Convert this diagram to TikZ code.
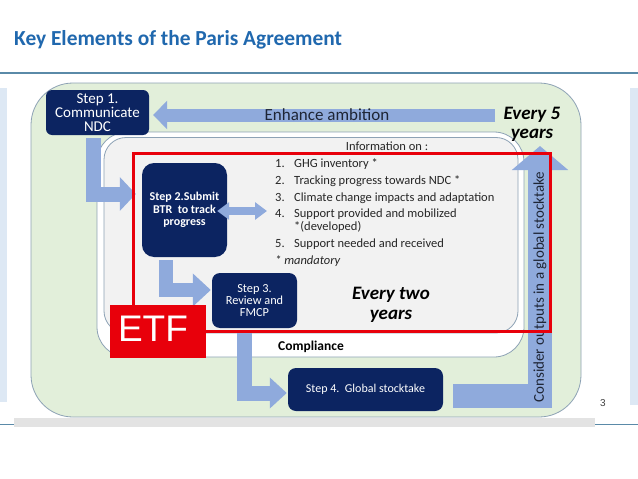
\documentclass[tikz,border=0pt]{standalone}
\usepackage{fontspec}
\setmainfont{Carlito}
\newfontfamily\arialf{Liberation Sans}
\usetikzlibrary{arrows.meta}
\pgfdeclarelayer{back}
\pgfdeclarelayer{mid}
\pgfsetlayers{back,mid,main}
\definecolor{navy}{HTML}{0C2461}
\definecolor{ablue}{HTML}{8FAADC}
\definecolor{titleblue}{HTML}{2068AE}
\definecolor{greenfill}{HTML}{E2EFDA}
\definecolor{boxline}{HTML}{8DA2B5}
\definecolor{grayfill}{HTML}{F2F2F2}
\definecolor{etfred}{HTML}{E8000B}
\definecolor{stripblue}{HTML}{DDE8F4}
\definecolor{ruleblue}{HTML}{5A8AA8}
\definecolor{txt}{HTML}{262626}
\definecolor{darktxt}{HTML}{1E2535}
\newcommand{\fsz}[2]{\fontsize{#1}{#2}\selectfont}
\begin{document}
\begin{tikzpicture}[x=1pt,y=-1pt,
  stepbox/.style={fill=navy, text=white, rounded corners=#1, inner sep=0pt, align=center},
  stepbox/.default=8pt,
  barrow/.style={draw=ablue, line join=miter},
  panel/.style={draw=boxline, line width=0.8pt},
  listitem/.style={anchor=base west, inner sep=0pt, text=txt, font=\fsz{12.5}{15}},
  bigital/.style={font=\fsz{19}{19}\bfseries\itshape, align=center, inner sep=0pt, text=black},
  redframe/.style={draw=etfred, line width=3pt}
]
\begin{pgfonlayer}{back}
\useasboundingbox (0,0) rectangle (638,479);
\fill[white] (0,0) rectangle (638,479);
% slide furniture
\draw[ruleblue, line width=1.1pt] (0,73) -- (638,73);
\fill[stripblue] (0,88) rectangle (7,402);
\fill[stripblue] (630,88) rectangle (638,405);
\draw[ruleblue, line width=1pt] (0,424.5) -- (638,424.5);
\fill[black!11] (14,418) rectangle (595,427);
% panels
\draw[panel, fill=greenfill, rounded corners=42pt] (31,83) rectangle (581,417);
\draw[panel, fill=white, rounded corners=30pt] (97,132) rectangle (524,357);
\draw[panel, fill=grayfill, rounded corners=22pt] (104,137.5) rectangle (518,333);
\end{pgfonlayer}

\node[anchor=base west, inner sep=0pt, font=\fsz{21.4}{25}\bfseries, text=titleblue] (title) at (14,45.5) {Key Elements of the Paris Agreement};
\node[font=\arialf\fsz{10}{12}, text=black!75, inner sep=0pt] (pagenum) at (603,403) {3};

% coordinates for connectors
\coordinate (ea) at (495,115);
\coordinate (c1) at (93,194);
\coordinate (c2) at (166,290);
\coordinate (c3) at (244,393);
\coordinate (c4) at (540,395.5);
\coordinate (gst) at (540,146);
\coordinate (dl) at (267,211);

% step boxes
\node[stepbox=6pt, minimum width=103pt, minimum height=45pt, font=\fsz{15}{14}] (step1) at (97.5,112.5) {Step 1.\\Communicate\\NDC};
\node[stepbox=12pt, minimum width=85pt, minimum height=94pt, font=\fsz{12}{12.5}\bfseries] (step2) at (184.5,210) {Step 2.Submit\\BTR\ \ to track\\progress};
\node[stepbox=8pt, minimum width=85pt, minimum height=55pt, font=\fsz{12.3}{12}] (step3) at (254.5,300.5) {Step 3.\\Review and\\FMCP};
\node[stepbox=8pt, minimum width=155pt, minimum height=43pt, font=\fsz{12}{14}] (step4) at (365.5,389.5) {Step 4.\ \ Global stocktake};

% block arrows (below the boxes)
\begin{pgfonlayer}{mid}
\draw[barrow, line width=13pt, -{Triangle[width=28pt,length=14pt]}] (ea) -- ([xshift=4pt]ea -| step1.east);
\draw[barrow, line width=24pt, -{Triangle[width=55pt,length=24pt]}] ([xshift=10pt]step4.east |- c4) -- (c4) -- (gst);
\draw[barrow, line width=15pt, -{Triangle[width=33pt,length=16pt]}] ([yshift=-3pt]step1.south -| c1) -- (c1) -- ([xshift=-6pt]c1 -| step2.west);
\draw[barrow, line width=14pt, -{Triangle[width=32pt,length=18pt]}] ([yshift=-3pt]step2.south -| c2) -- (c2) -- ([xshift=-1pt]c2 -| step3.west);
\draw[barrow, line width=15pt, -{Triangle[width=30pt,length=17pt]}] ([yshift=-2pt]step3.south -| c3) -- (c3) -- ([xshift=-1pt]c3 -| step4.west);
\end{pgfonlayer}

% double arrow step 2 <-> information list
\draw[barrow, line width=8pt, {Triangle[width=17pt,length=12pt]}-{Triangle[width=17pt,length=12pt]}] ([xshift=-10pt]step2.east |- dl) -- (dl);

% texts
\node[font=\fsz{17}{20}, text=darktxt, inner sep=0pt] (enh) at (327,115) {Enhance ambition};
\node[bigital] (every5) at (532,124.3) {Every 5\\years};
\node[font=\fsz{12.5}{15}, text=txt, inner sep=0pt] (info) at (387,146) {Information on :};
\node[listitem] (i1) at (275,167.3) {\makebox[19pt][l]{1.}GHG inventory *};
\node[listitem] (i2) at (275,184.7) {\makebox[19pt][l]{2.}Tracking progress towards NDC *};
\node[listitem] (i3) at (275,201.3) {\makebox[19pt][l]{3.}Climate change impacts and adaptation};
\node[listitem] (i4) at (275,217.3) {\makebox[19pt][l]{4.}Support provided and mobilized};
\node[listitem] (i4b) at (294,230.7) {*(developed)};
\node[listitem] (i5) at (275,247.3) {\makebox[19pt][l]{5.}Support needed and received};
\node[listitem, font=\fsz{12.5}{15}\itshape] (mand) at (275,264.7) {* mandatory};
\node[bigital, font=\fsz{19}{20}\bfseries\itshape] (every2) at (391,304.8) {Every two\\years};
\node[font=\fsz{13.5}{16}\bfseries, text=black, inner sep=0pt] (compl) at (311,347) {Compliance};
\node[rotate=90, font=\fsz{15}{18}, text=darktxt, inner sep=0pt] (consider) at (540,287) {Consider outputs in a global stocktake};

% ETF frame
\draw[redframe] (133,153) rectangle (550,331);
\node[fill=etfred, minimum width=96pt, minimum height=53pt, inner sep=0pt] (etf) at (158,331.5) {};
\node[text=white, font=\arialf\fsz{37}{40}, inner sep=0pt] (etftext) at (153,329) {ETF};

\end{tikzpicture}
\end{document}
